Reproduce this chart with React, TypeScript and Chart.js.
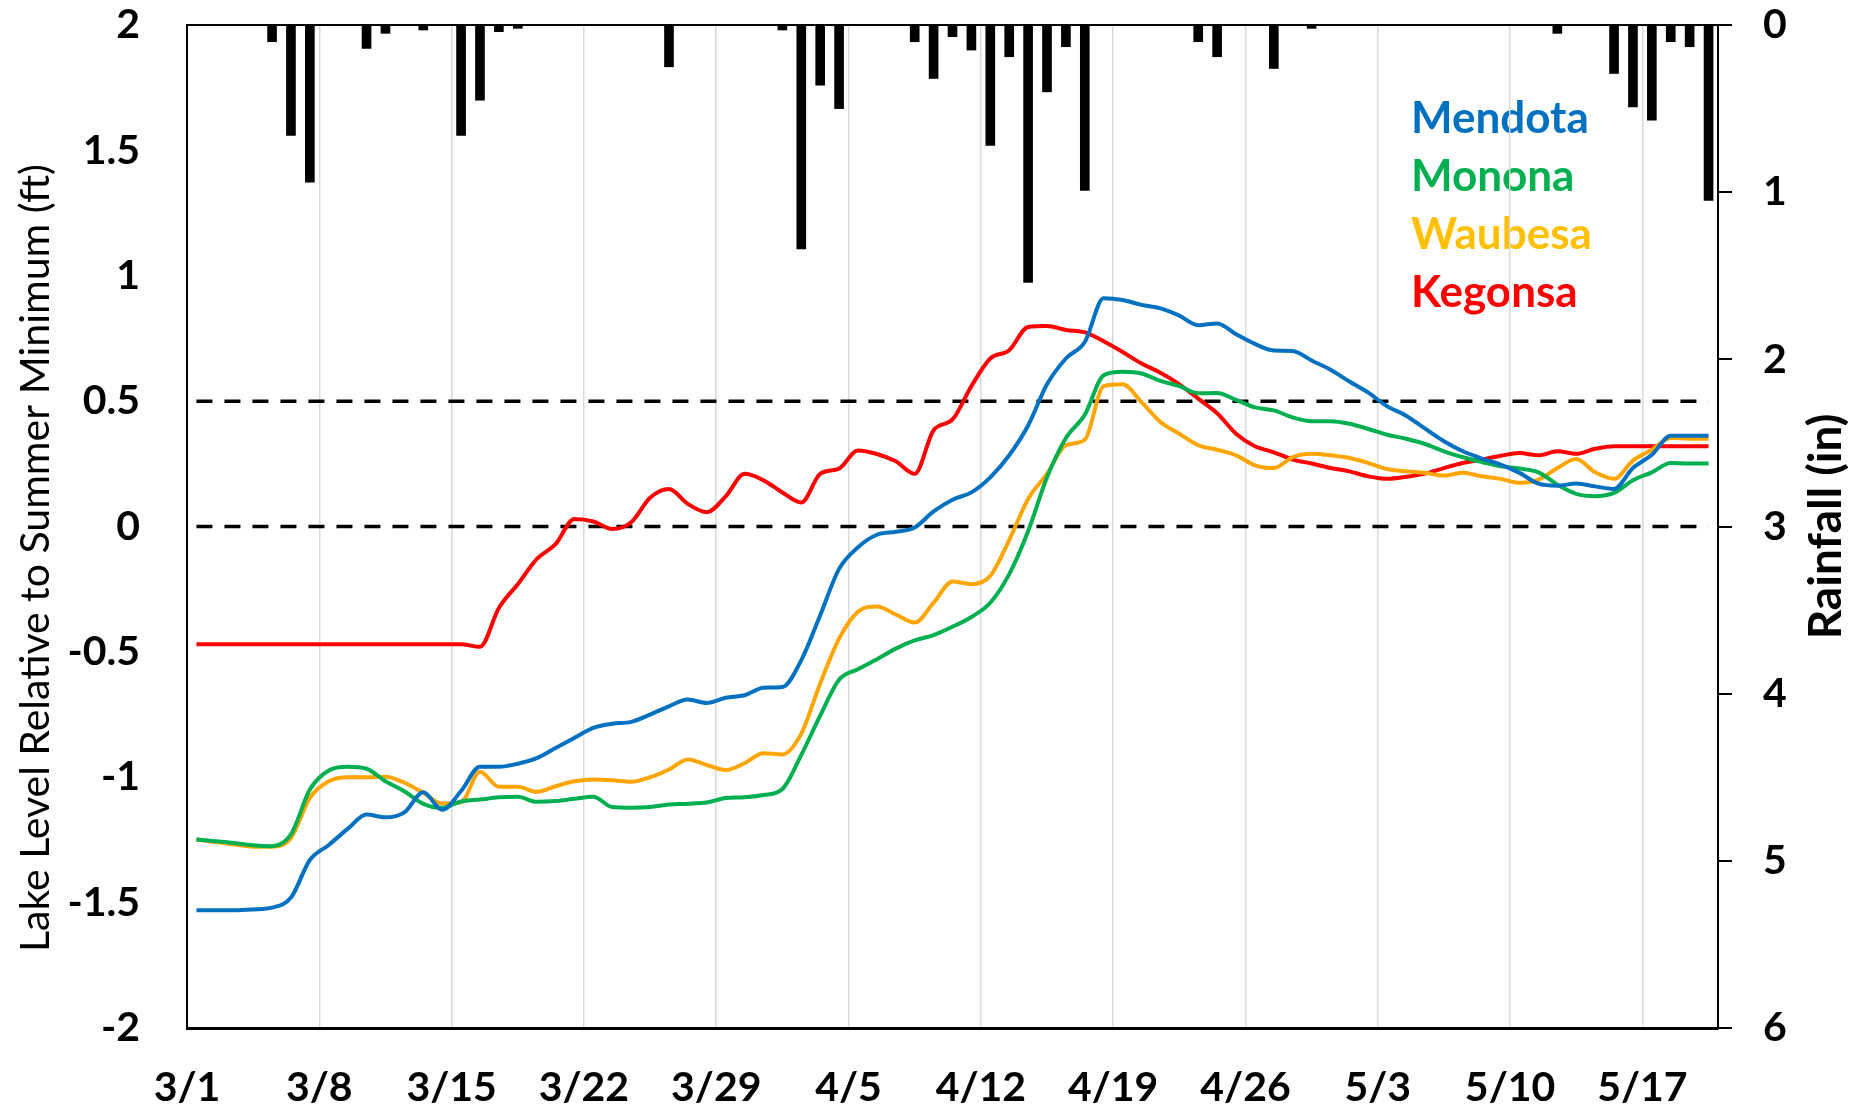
import React, { useEffect, useRef } from 'react';
import { Chart, registerables } from 'chart.js';

Chart.register(...registerables);

// ---------- data ----------
const TICK_DAYS = [0, 7, 14, 21, 28, 35, 42, 49, 56, 63, 70, 77];
const TICK_LABELS = ['3/1', '3/8', '3/15', '3/22', '3/29', '4/5', '4/12', '4/19', '4/26', '5/3', '5/10', '5/17'];
const DAY_COUNT = 81; // 3/1 .. 5/20
const LEFT_TICKS = [-2, -1.5, -1, -0.5, 0, 0.5, 1, 1.5, 2];
const RIGHT_TICKS = [0, 1, 2, 3, 4, 5, 6];
const REF_LEVELS = [0, 0.5];

const MENDOTA = [
  -1.53, -1.53, -1.53, -1.527, -1.52, -1.48, -1.33, -1.27, -1.206, -1.149,
  -1.16, -1.14, -1.06, -1.13, -1.055, -0.958, -0.958, -0.946, -0.924, -0.883,
  -0.843, -0.803, -0.787, -0.779, -0.75, -0.717, -0.69, -0.704, -0.683, -0.673,
  -0.643, -0.64, -0.533, -0.354, -0.169, -0.083, -0.033, -0.021, -0.004, 0.06,
  0.107, 0.136, 0.196, 0.284, 0.403, 0.567, 0.67, 0.736, 0.91, 0.903,
  0.884, 0.87, 0.841, 0.803, 0.81, 0.767, 0.728, 0.702, 0.7, 0.662,
  0.625, 0.578, 0.534, 0.479, 0.442, 0.39, 0.34, 0.3, 0.271, 0.247,
  0.214, 0.171, 0.163, 0.171, 0.16, 0.15, 0.233, 0.286, 0.362, 0.362,
  0.362,
];
const MONONA = [
  -1.248, -1.255, -1.262, -1.271, -1.275, -1.228, -1.049, -0.973, -0.958, -0.966,
  -1.016, -1.056, -1.106, -1.122, -1.097, -1.089, -1.08, -1.078, -1.098, -1.095,
  -1.086, -1.078, -1.119, -1.122, -1.119, -1.109, -1.106, -1.101, -1.083, -1.08,
  -1.071, -1.047, -0.911, -0.754, -0.611, -0.569, -0.529, -0.487, -0.454, -0.433,
  -0.4, -0.361, -0.304, -0.19, -0.019, 0.196, 0.353, 0.446, 0.603, 0.617,
  0.61, 0.581, 0.56, 0.531, 0.532, 0.505, 0.475, 0.463, 0.435, 0.42,
  0.42, 0.41, 0.389, 0.366, 0.35, 0.329, 0.3, 0.276, 0.257, 0.24,
  0.231, 0.216, 0.167, 0.13, 0.121, 0.134, 0.184, 0.216, 0.253, 0.251,
  0.251,
];
const WAUBESA = [
  -1.248, -1.258, -1.268, -1.277, -1.277, -1.242, -1.082, -1.016, -1.0, -1.0,
  -0.998, -1.022, -1.062, -1.105, -1.1, -0.978, -1.038, -1.038, -1.058, -1.036,
  -1.016, -1.009, -1.012, -1.018, -1.0, -0.969, -0.929, -0.951, -0.971, -0.944,
  -0.904, -0.909, -0.826, -0.626, -0.447, -0.34, -0.319, -0.351, -0.383, -0.304,
  -0.219, -0.23, -0.197, -0.054, 0.11, 0.21, 0.324, 0.346, 0.56, 0.567,
  0.496, 0.417, 0.37, 0.324, 0.306, 0.284, 0.244, 0.233, 0.277, 0.29,
  0.284, 0.273, 0.253, 0.229, 0.22, 0.214, 0.203, 0.214, 0.2, 0.19,
  0.174, 0.187, 0.233, 0.269, 0.216, 0.19, 0.263, 0.306, 0.353, 0.35,
  0.35,
];
const KEGONSA = [
  -0.47, -0.47, -0.47, -0.47, -0.47, -0.47, -0.47, -0.47, -0.47, -0.47,
  -0.47, -0.47, -0.47, -0.47, -0.47, -0.48, -0.325, -0.23, -0.13, -0.07,
  0.03, 0.02, -0.01, 0.017, 0.115, 0.15, 0.09, 0.057, 0.12, 0.21,
  0.184, 0.136, 0.096, 0.21, 0.231, 0.303, 0.289, 0.26, 0.21, 0.384,
  0.427, 0.56, 0.67, 0.703, 0.796, 0.8, 0.784, 0.774, 0.739, 0.696,
  0.65, 0.613, 0.567, 0.51, 0.452, 0.37, 0.32, 0.296, 0.267, 0.251,
  0.233, 0.22, 0.2, 0.19, 0.198, 0.211, 0.233, 0.253, 0.267, 0.282,
  0.293, 0.284, 0.3, 0.29, 0.31, 0.32, 0.32, 0.32, 0.32, 0.32,
  0.32,
];
const RAINFALL = [
  0, 0, 0, 0, 0.1, 0.66, 0.94, 0, 0, 0.14,
  0.05, 0, 0.03, 0, 0.66, 0.45, 0.04, 0.02, 0, 0,
  0, 0, 0, 0, 0, 0.25, 0, 0, 0, 0,
  0, 0.03, 1.34, 0.36, 0.5, 0, 0, 0, 0.1, 0.32,
  0.07, 0.15, 0.72, 0.19, 1.54, 0.4, 0.13, 0.99, 0, 0,
  0, 0, 0, 0.1, 0.19, 0, 0, 0.26, 0, 0.02,
  0, 0, 0, 0, 0, 0, 0, 0, 0, 0,
  0, 0, 0.05, 0, 0, 0.29, 0.49, 0.57, 0.1, 0.13,
  1.05,
];

const SERIES = [
  { name: 'Mendota', values: MENDOTA, line: '#0070C0', text: '#0070C0' },
  { name: 'Monona', values: MONONA, line: '#00B050', text: '#00B050' },
  { name: 'Waubesa', values: WAUBESA, line: '#FFA500', text: '#FFC000' },
  { name: 'Kegonsa', values: KEGONSA, line: '#FF0000', text: '#FF0000' },
];

const LEFT_TITLE = 'Lake Level Relative to Summer Minimum (ft)';
const RIGHT_TITLE = 'Rainfall (in)';

// ---------- styling / layout ----------
const W = 1853;
const H = 1114;
const FONT = 'Lato, "Open Sans", sans-serif';
const TICK_FONT = { family: FONT, size: 41, weight: 'bold' as const };

const toPoints = (vals: number[]) => vals.map((v, i) => ({ x: i + 0.5, y: v }));

const noPad = (s: any) => {
  s.paddingTop = 0;
  s.paddingBottom = 0;
  s.paddingLeft = 0;
  s.paddingRight = 0;
};

const decorPlugin = {
  id: 'decor',
  beforeDraw(chart: any) {
    const ctx = chart.ctx as CanvasRenderingContext2D;
    ctx.save();
    ctx.font = `bold 44px ${FONT}`;
    ctx.textAlign = 'left';
    ctx.textBaseline = 'alphabetic';
    SERIES.forEach((s, k) => {
      ctx.fillStyle = s.text;
      ctx.fillText(s.name, 1411, 133 + 58 * k);
    });
    ctx.restore();
  },
  afterDraw(chart: any) {
    const ctx = chart.ctx as CanvasRenderingContext2D;
    const a = chart.chartArea;
    ctx.save();
    ctx.strokeStyle = '#000';
    ctx.lineWidth = 2;
    ctx.beginPath();
    ctx.moveTo(a.left - 1, a.top);
    ctx.lineTo(a.right + 1, a.top);
    ctx.stroke();

    ctx.fillStyle = '#000';
    ctx.textAlign = 'center';
    ctx.textBaseline = 'middle';
    ctx.save();
    ctx.translate(36, 558);
    ctx.rotate(-Math.PI / 2);
    ctx.font = `41px ${FONT}`;
    ctx.fillText(LEFT_TITLE, 0, 0);
    ctx.restore();

    ctx.save();
    ctx.translate(1826, (a.top + a.bottom) / 2);
    ctx.rotate(-Math.PI / 2);
    ctx.font = `bold 46px ${FONT}`;
    ctx.fillText(RIGHT_TITLE, 0, 0);
    ctx.restore();
    ctx.restore();
  },
};

export default function App() {
  const canvasRef = useRef<HTMLCanvasElement | null>(null);

  useEffect(() => {
    if (!canvasRef.current) return;
    const lineSets = SERIES.map((s) => ({
      type: 'line' as const,
      label: s.name,
      data: toPoints(s.values),
      yAxisID: 'yL',
      borderColor: s.line,
      backgroundColor: s.line,
      borderWidth: 4,
      pointRadius: 0,
      cubicInterpolationMode: 'monotone' as const,
      fill: false,
      order: 1,
    }));
    const refSets = REF_LEVELS.map((lvl) => ({
      type: 'line' as const,
      label: 'ref' + lvl,
      data: [
        { x: 0.5, y: lvl },
        { x: DAY_COUNT - 0.5, y: lvl },
      ],
      yAxisID: 'yL',
      borderColor: '#000',
      borderWidth: 3.5,
      borderDash: [16, 12],
      pointRadius: 0,
      fill: false,
      order: 2,
    }));
    const barSet = {
      type: 'bar' as const,
      label: 'Rainfall',
      data: toPoints(RAINFALL),
      yAxisID: 'yR',
      backgroundColor: '#000',
      borderWidth: 0,
      barThickness: 9,
      order: 3,
    };

    const chart = new Chart(canvasRef.current, {
      type: 'line',
      data: { datasets: [...lineSets, ...refSets, barSet] as any },
      plugins: [decorPlugin],
      options: {
        animation: false,
        responsive: true,
        maintainAspectRatio: false,
        parsing: false as any,
        layout: { padding: { top: 25, left: 0, right: 0, bottom: 0 } },
        plugins: { legend: { display: false }, tooltip: { enabled: false } },
        scales: {
          x: {
            type: 'linear',
            offset: false,
            min: 0,
            max: DAY_COUNT,
            afterBuildTicks: (s: any) => {
              s.ticks = TICK_DAYS.map((v) => ({ value: v }));
            },
            afterFit: (s: any) => {
              s.height = 86;
              noPad(s);
            },
            ticks: {
              callback: (v: any) => TICK_LABELS[TICK_DAYS.indexOf(Number(v))] ?? '',
              font: TICK_FONT,
              color: '#000',
              padding: 35,
              maxRotation: 0,
              autoSkip: false,
            },
            grid: { color: '#D9D9D9', lineWidth: 1.5, drawTicks: false, offset: false },
            border: { color: '#000', width: 3 },
          },
          yL: {
            type: 'linear',
            position: 'left',
            min: -2,
            max: 2,
            afterBuildTicks: (s: any) => {
              s.ticks = LEFT_TICKS.map((v) => ({ value: v }));
            },
            afterFit: (s: any) => {
              s.width = 187;
              noPad(s);
            },
            ticks: {
              callback: (v: any) => String(v),
              font: TICK_FONT,
              color: '#000',
              padding: 47,
            },
            grid: { display: false, drawTicks: false },
            border: { color: '#000', width: 2 },
          },
          yR: {
            type: 'linear',
            position: 'right',
            reverse: true,
            min: 0,
            max: 6,
            afterBuildTicks: (s: any) => {
              s.ticks = RIGHT_TICKS.map((v) => ({ value: v }));
            },
            afterFit: (s: any) => {
              s.width = W - 1718;
              noPad(s);
            },
            ticks: {
              callback: (v: any) => String(v),
              font: TICK_FONT,
              color: '#000',
              padding: 31,
            },
            grid: {
              drawOnChartArea: false,
              drawTicks: true,
              tickLength: 14,
              color: '#000',
              lineWidth: 2,
            },
            border: { color: '#000', width: 2 },
          },
        },
      } as any,
    });
    return () => chart.destroy();
  }, []);

  return (
    <div style={{ position: 'absolute', left: 0, top: 0, width: W, height: H, background: '#fff' }}>
      <canvas ref={canvasRef} />
    </div>
  );
}
